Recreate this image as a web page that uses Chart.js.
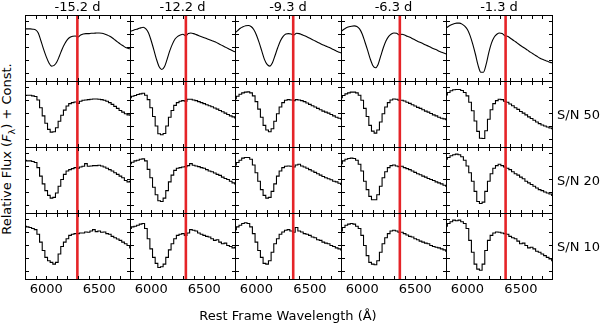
<!DOCTYPE html>
<html>
<head>
<meta charset="utf-8">
<script src="https://cdn.jsdelivr.net/npm/chart.js@4.4.0/dist/chart.umd.min.js"></script>
<style>
    html, body { margin: 0; padding: 0; background: #fff; }
    #fig { position: relative; width: 600px; height: 324px; overflow: hidden; font-family: 'DejaVu Sans', sans-serif; color: #000; }
    .panel { position: absolute; line-height: 0; }
    .panel canvas { display: block; }
    .lbl { position: absolute; font-size: 13px; line-height: 1; white-space: nowrap; }
</style>
</head>
<body>
<div id="fig"></div>
<script>
// wavelength grid (Angstrom), 25 A bins
const wave = [5800, 5825, 5850, 5875, 5900, 5925, 5950, 5975, 6000, 6025, 6050, 6075, 6100, 6125, 6150, 6175, 6200,
    6225, 6250, 6275, 6300, 6325, 6350, 6375, 6400, 6425, 6450, 6475, 6500, 6525, 6550, 6575, 6600, 6625, 6650,
    6675, 6700, 6725, 6750, 6775, 6800];

const epochs = ["-15.2 d", "-12.2 d", "-9.3 d", "-6.3 d", "-1.3 d"];
const rowLabels = ["", "S/N 50", "S/N 20", "S/N 10"];
const redLineWave = [6294, 6327, 6344, 6355, 6357];

// relative flux (+ const), one array per epoch
const fluxNoiseless = [
    [1.50,1.50,1.50,1.49,1.47,1.38,1.15,0.90,0.68,0.50,0.40,0.42,0.52,0.70,0.90,1.06,1.18,1.25,1.28,1.29,1.26,1.32,1.35,1.36,1.36,1.37,1.37,1.38,1.38,1.37,1.35,1.32,1.28,1.23,1.17,1.11,1.05,1.00,0.95,0.92,0.91],
    [1.42,1.45,1.48,1.50,1.53,1.55,1.50,1.38,1.15,0.88,0.60,0.38,0.30,0.38,0.60,0.85,1.05,1.20,1.28,1.32,1.34,1.30,1.36,1.38,1.36,1.33,1.30,1.27,1.24,1.21,1.18,1.15,1.12,1.08,1.04,1.00,0.96,0.92,0.88,0.84,0.82],
    [1.38,1.45,1.52,1.56,1.59,1.60,1.57,1.48,1.32,1.10,0.85,0.60,0.45,0.40,0.50,0.72,0.95,1.15,1.28,1.35,1.36,1.35,1.32,1.37,1.36,1.33,1.30,1.26,1.22,1.18,1.14,1.10,1.06,1.02,0.99,0.96,0.92,0.88,0.84,0.81,0.78],
    [1.42,1.48,1.53,1.56,1.58,1.59,1.57,1.50,1.35,1.12,0.88,0.62,0.42,0.35,0.45,0.70,0.95,1.15,1.28,1.35,1.38,1.37,1.32,1.34,1.32,1.28,1.25,1.21,1.17,1.13,1.10,1.06,1.02,0.99,0.95,0.91,0.88,0.84,0.81,0.78,0.75],
    [1.52,1.58,1.62,1.65,1.67,1.67,1.64,1.58,1.48,1.30,1.05,0.75,0.42,0.22,0.22,0.45,0.80,1.08,1.25,1.34,1.38,1.36,1.30,1.28,1.23,1.17,1.12,1.06,1.00,0.95,0.90,0.84,0.79,0.74,0.69,0.64,0.60,0.57,0.54,0.51,0.49]
];
const fluxSN50 = [
    [1.48,1.49,1.49,1.47,1.45,1.35,1.12,0.88,0.66,0.48,0.40,0.41,0.53,0.72,0.90,1.05,1.17,1.24,1.27,1.29,1.25,1.31,1.34,1.35,1.36,1.37,1.38,1.38,1.37,1.36,1.34,1.31,1.27,1.22,1.16,1.10,1.04,0.99,0.94,0.91,0.90],
    [1.42,1.46,1.48,1.51,1.53,1.55,1.49,1.36,1.12,0.86,0.58,0.35,0.32,0.36,0.58,0.84,1.04,1.19,1.27,1.31,1.33,1.31,1.37,1.37,1.35,1.33,1.30,1.27,1.24,1.21,1.18,1.15,1.11,1.08,1.04,1.00,0.96,0.92,0.88,0.85,0.82],
    [1.39,1.46,1.52,1.56,1.58,1.59,1.56,1.47,1.30,1.08,0.84,0.60,0.46,0.41,0.50,0.72,0.94,1.14,1.27,1.34,1.36,1.35,1.33,1.36,1.35,1.33,1.30,1.26,1.22,1.18,1.14,1.10,1.06,1.02,0.99,0.96,0.92,0.88,0.84,0.81,0.79],
    [1.42,1.48,1.53,1.56,1.58,1.58,1.56,1.49,1.34,1.10,0.86,0.60,0.43,0.37,0.46,0.70,0.94,1.14,1.27,1.35,1.38,1.37,1.34,1.34,1.32,1.28,1.25,1.21,1.17,1.13,1.10,1.06,1.02,0.99,0.95,0.91,0.88,0.84,0.81,0.79,0.77],
    [1.50,1.57,1.62,1.65,1.66,1.66,1.63,1.57,1.47,1.28,1.03,0.73,0.42,0.22,0.21,0.44,0.78,1.06,1.24,1.33,1.37,1.36,1.31,1.28,1.23,1.18,1.12,1.07,1.01,0.96,0.91,0.85,0.80,0.75,0.70,0.65,0.61,0.58,0.55,0.52,0.50]
];
const fluxSN20 = [
    [1.52,1.50,1.50,1.48,1.45,1.30,1.05,0.82,0.62,0.48,0.40,0.42,0.55,0.75,0.95,1.10,1.20,1.24,1.27,1.30,1.28,1.32,1.34,1.42,1.34,1.35,1.36,1.36,1.37,1.35,1.32,1.28,1.24,1.20,1.15,1.10,1.05,1.00,0.92,0.88,0.90],
    [1.42,1.46,1.50,1.52,1.55,1.56,1.50,1.25,1.00,0.72,0.50,0.32,0.30,0.40,0.62,0.88,1.08,1.22,1.28,1.30,1.32,1.33,1.36,1.42,1.37,1.35,1.33,1.30,1.28,1.24,1.20,1.18,1.14,1.10,1.07,1.02,0.98,0.95,0.90,0.85,0.82],
    [1.38,1.45,1.52,1.58,1.60,1.60,1.55,1.38,1.15,0.90,0.65,0.48,0.40,0.42,0.60,0.82,1.05,1.20,1.30,1.34,1.35,1.34,1.32,1.38,1.40,1.35,1.32,1.28,1.24,1.20,1.16,1.12,1.08,1.04,1.00,0.97,0.94,0.90,0.88,0.84,0.80],
    [1.42,1.50,1.55,1.57,1.58,1.57,1.52,1.40,1.20,0.90,0.65,0.45,0.35,0.35,0.50,0.75,1.00,1.18,1.30,1.36,1.38,1.35,1.33,1.34,1.30,1.27,1.24,1.20,1.16,1.12,1.09,1.05,1.02,0.98,0.95,0.92,0.88,0.85,0.82,0.78,0.75],
    [1.55,1.60,1.65,1.68,1.70,1.68,1.62,1.52,1.35,1.15,0.90,0.60,0.30,0.24,0.28,0.60,0.90,1.12,1.28,1.36,1.40,1.36,1.32,1.28,1.24,1.18,1.12,1.08,1.02,0.97,0.90,0.85,0.80,0.75,0.70,0.65,0.62,0.58,0.55,0.52,0.48]
];
const fluxSN10 = [
    [1.52,1.50,1.48,1.45,1.42,1.28,1.05,0.80,0.60,0.50,0.45,0.40,0.45,0.70,0.92,1.05,1.15,1.25,1.28,1.30,1.30,1.32,1.32,1.35,1.34,1.38,1.42,1.36,1.38,1.34,1.35,1.30,1.28,1.22,1.18,1.14,1.10,1.05,1.00,0.95,0.88],
    [1.45,1.50,1.52,1.55,1.58,1.60,1.45,1.15,0.85,0.60,0.42,0.30,0.32,0.40,0.60,0.82,1.00,1.15,1.25,1.28,1.30,1.25,1.32,1.42,1.40,1.38,1.32,1.28,1.25,1.22,1.20,1.15,1.10,1.12,1.05,1.00,1.02,0.95,0.92,0.88,0.90],
    [1.42,1.50,1.55,1.60,1.62,1.60,1.50,1.30,1.05,0.80,0.60,0.42,0.40,0.50,0.75,1.00,1.15,1.28,1.35,1.40,1.42,1.38,1.34,1.48,1.38,1.35,1.30,1.28,1.25,1.20,1.18,1.12,1.10,1.05,1.02,1.00,0.95,0.92,0.88,0.85,0.82],
    [1.38,1.48,1.55,1.58,1.60,1.58,1.52,1.45,1.25,0.95,0.65,0.45,0.40,0.38,0.50,0.75,1.00,1.18,1.30,1.38,1.40,1.38,1.34,1.34,1.30,1.26,1.22,1.20,1.15,1.12,1.08,1.05,1.02,1.00,0.95,0.92,0.90,0.88,0.85,0.82,0.78],
    [1.52,1.60,1.65,1.70,1.68,1.70,1.65,1.60,1.45,1.10,0.75,0.40,0.25,0.22,0.40,0.80,1.10,1.25,1.32,1.35,1.34,1.32,1.30,1.28,1.22,1.18,1.15,1.08,1.00,1.02,0.95,0.88,0.90,0.85,0.78,0.75,0.70,0.65,0.60,0.55,0.50]
];
const rows = [fluxNoiseless, fluxSN50, fluxSN20, fluxSN10];

// axis ranges and tick marks
const xMin = 5800, xMax = 6800;
const yMin = -0.07, yMax = 1.91;
const xTickMarks = [5900, 6000, 6100, 6200, 6300, 6400, 6500, 6600, 6700];
const xTickLabels = [6000, 6500];
const yTickMarks = [0.21, 0.59, 0.96, 1.34, 1.72];

// page layout of the grid (px)
const colEdges = [25, 130, 235, 341, 446, 552];
const rowEdges = [15, 81, 147, 213, 279];
const axisH = 22;
const tickLen = 4;
const FONT = "'DejaVu Sans', sans-serif";

const fig = document.getElementById("fig");

// box + inward ticks on all four sides
const framePlugin = {
    id: "frame",
    afterDraw(chart) {
        const { ctx, chartArea: a, scales } = chart;
        const x = scales.x, y = scales.y;
        ctx.save();
        ctx.strokeStyle = "#000";
        ctx.lineWidth = 1;
        ctx.beginPath();
        xTickMarks.forEach(v => {
            const px = Math.round(x.getPixelForValue(v)) + 0.5;
            ctx.moveTo(px, a.top); ctx.lineTo(px, a.top + tickLen);
            ctx.moveTo(px, a.bottom); ctx.lineTo(px, a.bottom - tickLen);
        });
        yTickMarks.forEach(v => {
            const py = Math.round(y.getPixelForValue(v)) + 0.5;
            ctx.moveTo(a.left, py); ctx.lineTo(a.left + tickLen, py);
            ctx.moveTo(a.right, py); ctx.lineTo(a.right - tickLen, py);
        });
        ctx.stroke();
        ctx.strokeRect(a.left + 0.5, a.top + 0.5, a.width - 1, a.height - 1);
        ctx.restore();
    }
};

function makePanel(r, c) {
    const isBottom = r === rows.length - 1;
    const w = colEdges[c + 1] - colEdges[c] + 1;
    const h = rowEdges[r + 1] - rowEdges[r] + 1;
    const wrap = document.createElement("div");
    wrap.className = "panel";
    wrap.style.left = colEdges[c] + "px";
    wrap.style.top = rowEdges[r] + "px";
    const cv = document.createElement("canvas");
    cv.width = w;
    cv.height = h + (isBottom ? axisH : 0);
    wrap.appendChild(cv);
    fig.appendChild(wrap);

    const xScale = {
        type: "linear",
        min: xMin,
        max: xMax,
        display: isBottom,
        grid: { display: false, drawTicks: false },
        border: { display: false },
        ticks: {
            autoSkip: false,
            maxRotation: 0,
            padding: 2,
            color: "#000",
            font: { family: FONT, size: 13 },
            callback: v => String(v)
        }
    };
    if (isBottom) {
        xScale.afterBuildTicks = s => { s.ticks = xTickLabels.map(v => ({ value: v })); };
        xScale.afterFit = s => { s.height = axisH; };
    }

    const flux = rows[r][c];
    new Chart(cv, {
        type: "line",
        data: {
            datasets: [
                {
                    // red marker, drawn on top (first dataset)
                    data: [{ x: redLineWave[c], y: yMin }, { x: redLineWave[c], y: yMax }],
                    borderColor: "rgba(228,24,28,0.95)",
                    borderWidth: 2.6,
                    pointRadius: 0
                },
                {
                    data: wave.map((wl, i) => ({ x: wl, y: flux[i] })),
                    borderColor: "#000",
                    borderWidth: 1.1,
                    pointRadius: 0,
                    stepped: r === 0 ? false : "middle",
                    tension: r === 0 ? 0.4 : 0,
                    cubicInterpolationMode: r === 0 ? "monotone" : "default"
                }
            ]
        },
        options: {
            responsive: false,
            animation: false,
            events: [],
            layout: { padding: 0 },
            plugins: { legend: { display: false }, tooltip: { enabled: false } },
            scales: {
                x: xScale,
                y: { min: yMin, max: yMax, display: false }
            }
        },
        plugins: [framePlugin]
    });
}

for (let r = 0; r < rows.length; r++) {
    for (let c = 0; c < epochs.length; c++) {
        makePanel(r, c);
    }
}

function addLabel(html, css) {
    const d = document.createElement("div");
    d.className = "lbl";
    d.innerHTML = html;
    Object.assign(d.style, css);
    fig.appendChild(d);
}

// column titles
epochs.forEach((t, c) => {
    const cx = (colEdges[c] + colEdges[c + 1]) / 2;
    addLabel(t, { left: cx + "px", top: "0px", transform: "translateX(-50%)" });
});
// row labels
rowLabels.forEach((t, r) => {
    if (!t) return;
    const cy = (rowEdges[r] + rowEdges[r + 1]) / 2;
    addLabel(t, { left: "557px", top: (cy - 6.5) + "px" });
});
addLabel("Rest Frame Wavelength (&#197;)", { left: "288px", top: "309px", transform: "translateX(-50%)" });
addLabel("Relative Flux (<i>F</i><sub style='font-size:9.5px'>&#955;</sub>) + Const.",
    { left: "8px", top: "149px", transform: "translate(-50%,-50%) rotate(-90deg)" });
</script>
</body>
</html>
